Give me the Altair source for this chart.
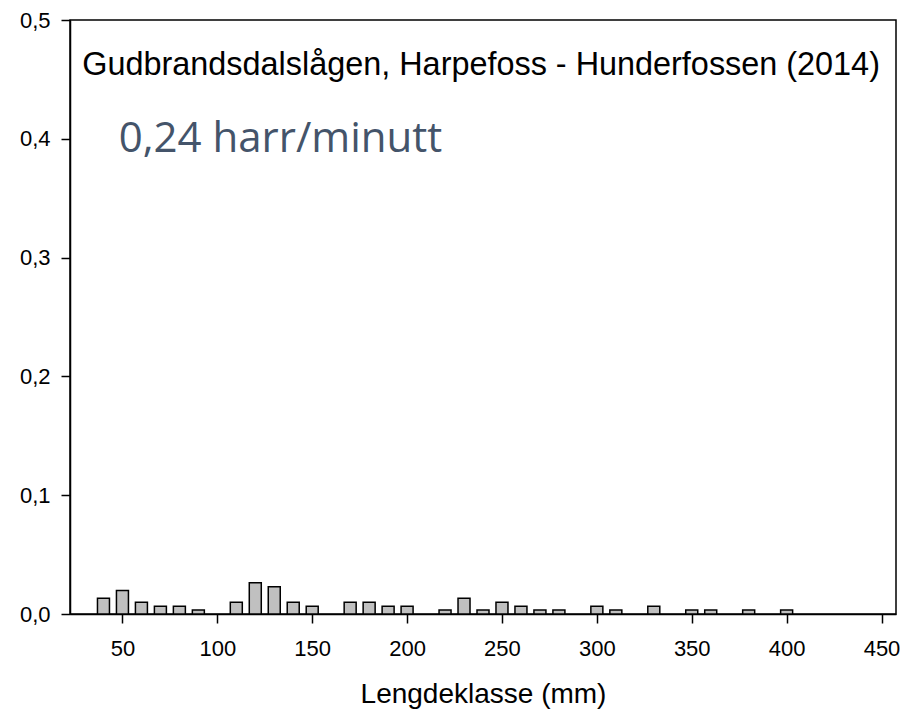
import altair as alt
import pandas as pd

lengths = [40, 50, 60, 70, 80, 90, 110, 120, 130, 140, 150, 170, 180, 190, 200,
           220, 230, 240, 250, 260, 270, 280, 300, 310, 330, 350, 360, 380, 400]
values = [0.0132, 0.0198, 0.0099, 0.0066, 0.0066, 0.0033, 0.0099, 0.0263, 0.0230,
          0.0099, 0.0066, 0.0099, 0.0099, 0.0066, 0.0066, 0.0033, 0.0132, 0.0033,
          0.0099, 0.0066, 0.0033, 0.0033, 0.0066, 0.0033, 0.0066, 0.0033, 0.0033,
          0.0033, 0.0033]
x_ticks = [50, 100, 150, 200, 250, 300, 350, 400, 450]
y_ticks = [0.0, 0.1, 0.2, 0.3, 0.4, 0.5]
title_text = "Gudbrandsdalslågen, Harpefoss - Hunderfossen (2014)"
rate_text = "0,24 harr/minutt"

df = pd.DataFrame({"len": lengths, "val": values})

FONT = "Liberation Sans"

x_enc = alt.X("len:Q", title="Lengdeklasse (mm)",
              scale=alt.Scale(domain=[25, 455], nice=False, zero=False),
              axis=alt.Axis(values=x_ticks, grid=False, tickSize=9, tickColor="black",
                            domainColor="black", tickWidth=1.5, domainWidth=1.5,
                            labelFontSize=22, labelFont=FONT, labelColor="black",
                            labelPadding=15, titleFontSize=28, titleFont=FONT,
                            titleFontWeight="normal", titleColor="black", titlePadding=21))
y_enc = alt.Y("val:Q", title=None,
              scale=alt.Scale(domain=[0, 0.5], nice=False),
              axis=alt.Axis(values=y_ticks, grid=False, tickSize=9, tickColor="black",
                            domainColor="black", tickWidth=1.5, domainWidth=1.5,
                            labelFontSize=22, labelFont=FONT, labelColor="black",
                            labelPadding=11,
                            labelExpr="replace(format(datum.value, '.1f'), '.', ',')"))

bars = alt.Chart(df).mark_bar(size=12, color="#c0c0c0", stroke="black",
                              strokeWidth=1.5).encode(x=x_enc, y=y_enc)

t1 = alt.Chart(pd.DataFrame({"x": [239], "y": [0.4537], "t": [title_text]})).mark_text(
    font=FONT, fontSize=32.4, color="black", align="center", baseline="alphabetic"
).encode(x=alt.X("x:Q"), y=alt.Y("y:Q"), text="t:N")

t2 = alt.Chart(pd.DataFrame({"x": [48], "y": [0.389], "t": [rate_text]})).mark_text(
    font="Open Sans", fontSize=42, color="#44546a", align="left", baseline="alphabetic"
).encode(x=alt.X("x:Q"), y=alt.Y("y:Q"), text="t:N")

chart = alt.layer(bars, t1, t2).properties(
    width=826, height=594,
    autosize=alt.AutoSizeParams(type="none"),
    padding={"left": 62, "top": 12, "right": 8, "bottom": 100},
).configure_view(stroke="black", strokeWidth=1.5)

chart.save("out.html", embed_options={"renderer": "svg", "actions": False})
